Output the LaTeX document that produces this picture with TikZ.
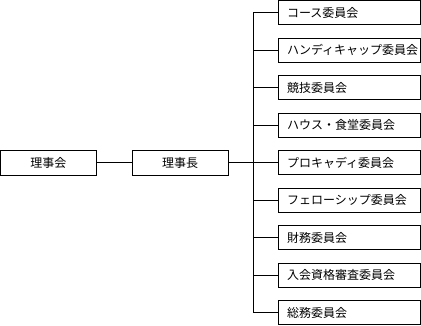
\documentclass[tikz,border=0pt]{standalone}
\usepackage{fontspec}
\usepackage{tikz}
\usetikzlibrary{positioning}
\newfontfamily\jpfont{Noto Sans CJK JP}

\begin{document}
\begin{tikzpicture}[x=1pt,y=1pt,
  orgbox/.style={draw,line width=0.8pt,minimum height=25pt,minimum width=96pt,inner sep=0pt,font=\jpfont\fontsize{12}{14}\selectfont},
  iinbox/.style={draw,line width=0.8pt,minimum height=24pt,text width=124pt,inner xsep=9pt,inner ysep=0pt,align=left,font=\jpfont\fontsize{12}{14}\selectfont},
  link/.style={line width=0.8pt}]
\useasboundingbox (0,0) rectangle (421,325);
% Left: board and chairman
\node[orgbox] (rijikai) at (48.4,162.5) {理事会};
\node[orgbox] (rijicho) at (180,162.5) {理事長};
\draw[link] (rijikai) -- (rijicho);
% Right: committees
\foreach \i/\name in {0/コース委員会,1/ハンディキャップ委員会,2/競技委員会,3/ハウス・食堂委員会,4/プロキャディ委員会,5/フェローシップ委員会,6/財務委員会,7/入会資格審査委員会,8/総務委員会} {
  \node[iinbox] (iin\i) at (349,312.5-37.5*\i) {\name};
}
% Trunk
\coordinate (trunk) at (253,162.5);
\draw[link] (rijicho.east) -- (trunk);
\draw[link] (iin0.west -| trunk) -- (iin8.west -| trunk);
\foreach \i in {0,...,8} {\draw[link] (iin\i.west) -- (iin\i.west -| trunk);}
\end{tikzpicture}
\end{document}
